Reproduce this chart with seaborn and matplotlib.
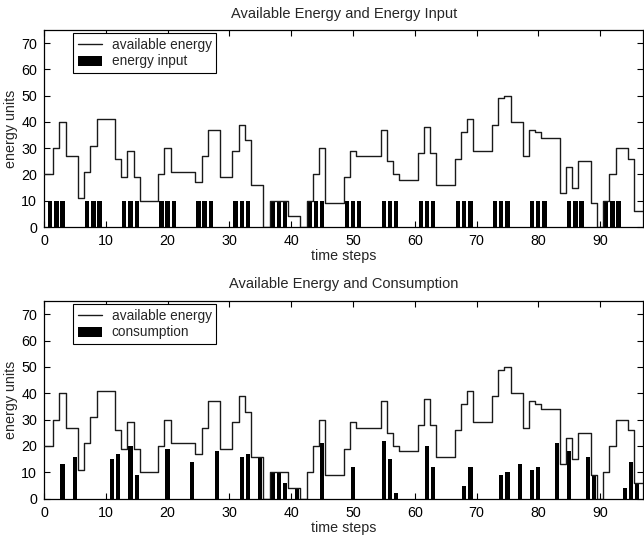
import matplotlib
matplotlib.use("Agg")
import matplotlib.pyplot as plt
import seaborn as sns
import pandas as pd
import numpy as np

# ---- data ----
time_steps = list(range(0, 98))
available_energy = [20, 20, 30, 40, 27, 27, 11, 21, 31, 41,
                    41, 41, 26, 19, 29, 19, 10, 10, 10, 20,
                    30, 21, 21, 21, 21, 17, 27, 37, 37, 19,
                    19, 29, 39, 33, 16, 16, 0, 10, 10, 10,
                    4, 4, 0, 10, 20, 30, 9, 9, 9, 19,
                    29, 27, 27, 27, 27, 37, 25, 20, 18, 18,
                    18, 28, 38, 28, 16, 16, 16, 26, 36, 41,
                    29, 29, 29, 39, 49, 50, 40, 40, 27, 37,
                    36, 34, 34, 34, 13, 23, 15, 25, 25, 9,
                    0, 10, 20, 30, 30, 26, 6, 6]

input_steps = [1, 2, 3, 7, 8, 9, 13, 14, 15, 19, 20, 21, 25, 26, 27,
               31, 32, 33, 37, 38, 39, 43, 44, 45, 49, 50, 51, 55, 56, 57,
               61, 62, 63, 67, 68, 69, 73, 74, 75, 79, 80, 81, 85, 86, 87,
               91, 92, 93]
input_values = [10] * len(input_steps)

consumption_steps = [3, 5, 11, 12, 14, 15, 20, 24, 28, 32, 33, 35, 37, 38, 39,
                     41, 45, 50, 55, 56, 57, 62, 63, 68, 69, 74, 75, 77, 79, 80,
                     83, 85, 88, 89, 94, 95, 96]
consumption_values = [13, 16, 15, 17, 20, 9, 19, 14, 18, 16, 17, 16, 10, 10, 6,
                      4, 21, 12, 22, 15, 2, 20, 12, 5, 12, 9, 10, 13, 11, 12,
                      21, 18, 16, 9, 4, 14, 6]

titles = ["Available Energy and Energy Input", "Available Energy and Consumption"]
bar_labels = ["energy input", "consumption"]
x_ticks = [0, 10, 20, 30, 40, 50, 60, 70, 80, 90]
y_ticks = [0, 10, 20, 30, 40, 50, 60, 70]

sns.set_style("white")
plt.rcParams['font.family'] = ['Liberation Sans', 'DejaVu Sans']
plt.rcParams['font.size'] = 10

fig = plt.figure(figsize=(6.44, 5.35), dpi=100)
ax_top = fig.add_axes([0.0683, 0.5757, 0.9307, 0.3682])
ax_bot = fig.add_axes([0.0683, 0.0678, 0.9307, 0.3696])

line_df = pd.DataFrame({"t": time_steps, "e": available_energy})
bar_sets = [pd.DataFrame({"t": input_steps, "v": input_values}),
            pd.DataFrame({"t": consumption_steps, "v": consumption_values})]

for ax, bdf, title, blabel in zip([ax_top, ax_bot], bar_sets, titles, bar_labels):
    sns.barplot(data=bdf, x="t", y="v", native_scale=True, width=0.7,
                color="black", saturation=1, errorbar=None, linewidth=0,
                label=blabel, ax=ax, zorder=2)
    sns.lineplot(data=line_df, x="t", y="e", drawstyle="steps-mid",
                 color="#1a1a1a", linewidth=1.0, label="available energy",
                 ax=ax, zorder=3)
    ax.set_xlim(0, 97)
    ax.set_ylim(0, 75)
    ax.set_xticks(x_ticks)
    ax.set_yticks(y_ticks)
    ax.set_xlabel("time steps", fontsize=10.3, labelpad=1)
    ax.set_ylabel("energy units", fontsize=10.3, labelpad=2)
    ax.set_title(title, fontsize=10.5, pad=9)
    ax.tick_params(direction="in", length=4, width=0.8, top=True, right=True,
                   bottom=True, left=True, labelsize=10.3, pad=5, colors="black")
    for sp in ax.spines.values():
        sp.set_visible(True)
        sp.set_color("black")
        sp.set_linewidth(0.9)
    handles, labels = ax.get_legend_handles_labels()
    order = [labels.index("available energy"), labels.index(blabel)]
    leg = ax.legend([handles[i] for i in order], [labels[i] for i in order],
                    loc="upper left", bbox_to_anchor=(0.049, 0.983),
                    borderaxespad=0, fancybox=False, frameon=True,
                    edgecolor="black", fontsize=9.8, handlelength=1.75,
                    handleheight=0.75, labelspacing=0.2, borderpad=0.32,
                    handletextpad=0.75)
    leg.get_frame().set_linewidth(0.8)
    leg.get_frame().set_alpha(1)

fig.savefig("out.png", dpi=100)
